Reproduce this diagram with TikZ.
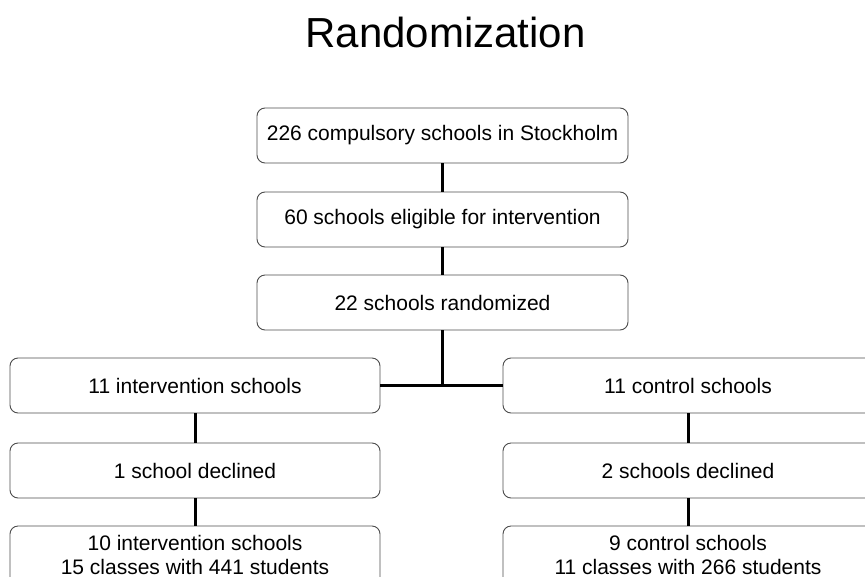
\documentclass[tikz,border=0pt]{standalone}
\usepackage{fontspec}
\setmainfont{Liberation Sans}
\begin{document}
\begin{tikzpicture}[x=1pt,y=-1pt,
  box/.style={draw=black!70, line width=0.9pt, rounded corners=8pt, minimum width=370pt, minimum height=55pt, inner sep=0pt, align=center, font=\fontsize{21}{24}\selectfont},
  conn/.style={draw=black, line width=3pt}]
\useasboundingbox (0,0) rectangle (865,576);
\node[font=\fontsize{42}{48}\selectfont, anchor=base] (title) at (445.5,47) {Randomization};
\node[box, minimum width=371pt] (a) at (442.5,135.5) {226 compulsory schools in Stockholm};
\node[box, minimum width=371pt] (b) at (442.5,219.5) {60 schools eligible for intervention};
\node[box, minimum width=371pt] (c) at (442.5,302.5) {22 schools randomized};
\node[box] (l1) at (195,385.5) {11 intervention schools};
\node[box] (l2) at (195,470.5) {1 school declined};
\node[box, minimum height=74pt, text depth=0pt] (l3) at (195,563) {};
\node[font=\fontsize{21}{24}\selectfont, align=center, anchor=north] (l3t) at (195,532) {10 intervention schools\\15 classes with 441 students};
\node[box] (r1) at (688,385.5) {11 control schools};
\node[box] (r2) at (688,470.5) {2 schools declined};
\node[box, minimum height=74pt] (r3) at (688,563) {};
\node[font=\fontsize{21}{24}\selectfont, align=center, anchor=north] (r3t) at (688,532) {9 control schools\\11 classes with 266 students};
\draw[conn] (a) -- (b);
\draw[conn] (b) -- (c);
\draw[conn] (l1.east) -- coordinate (mid) (r1.west);
\draw[conn] (c.south) -- (c.south |- mid);
\draw[conn] (l1) -- (l2);
\draw[conn] (l2) -- (l3.north);
\draw[conn] (r1) -- (r2);
\draw[conn] (r2) -- (r3.north);
\end{tikzpicture}
\end{document}
